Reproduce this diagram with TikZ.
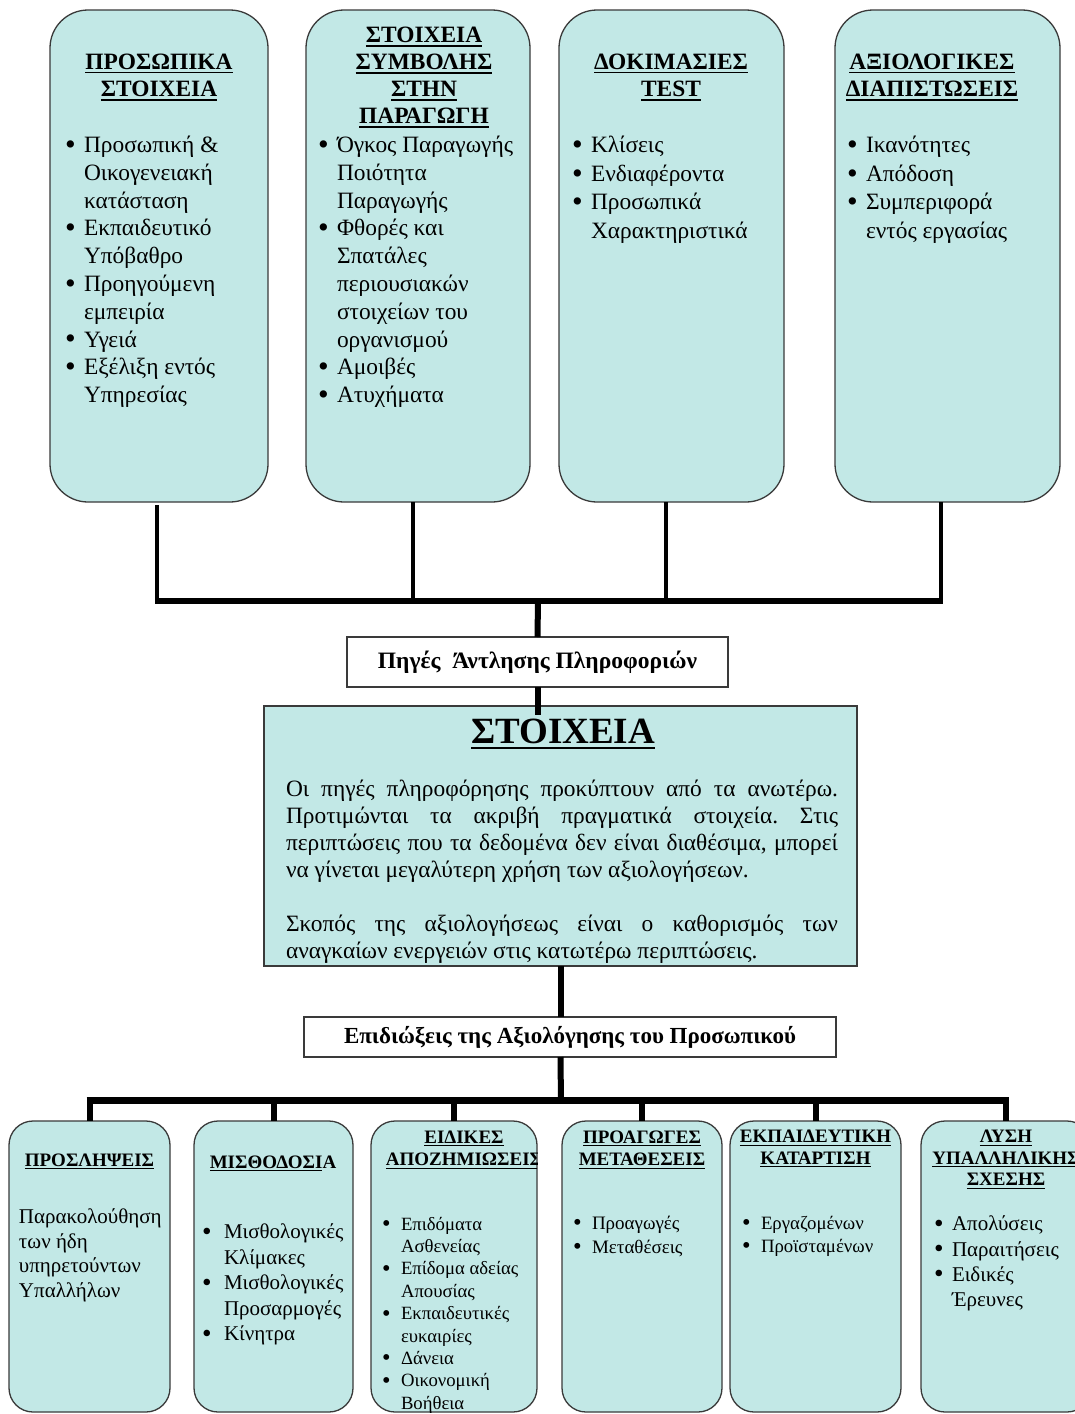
\documentclass[tikz,border=0pt]{standalone}
\usepackage{fontspec}
\usepackage{graphicx}
\setmainfont{Liberation Serif}
\usetikzlibrary{calc}
\definecolor{boxfill}{HTML}{C2E8E6}
\definecolor{edgecol}{HTML}{3A3A3A}
\frenchspacing
\newcommand{\uln}[1]{\setbox0\hbox{#1}\rlap{\rule[-0.17em]{\wd0}{0.065em}}\box0}
\newcommand{\bul}[1][19pt]{\makebox[#1][l]{\raisebox{-0.07em}{\scalebox{1.3}{•}}}}
\newcommand{\bind}[1][19pt]{\hspace*{#1}}
\newcommand{\fsz}[2]{\fontsize{#1}{#2}\selectfont}
\newcommand{\jl}[1]{\setbox2\hbox{#1}\ifdim\wd2>552pt\relax\resizebox{552pt}{\height}{#1}\else\makebox[552pt][s]{#1}\fi}
\newcommand{\nl}[1]{\setbox2\hbox{#1}\ifdim\wd2>552pt\relax\resizebox{552pt}{\height}{#1}\else\box2\fi}
\begin{document}
\begin{tikzpicture}[x=1pt,y=-1pt,
  topbox/.style={draw=edgecol, line width=1.3pt, fill=boxfill, rounded corners=38pt, inner sep=0pt, outer sep=0pt},
  botbox/.style={draw=edgecol, line width=1.3pt, fill=boxfill, rounded corners=24pt, inner sep=0pt, outer sep=0pt},
  mainbox/.style={draw=edgecol, line width=1.3pt, fill=boxfill, inner sep=0pt, outer sep=0pt},
  plainbox/.style={draw=edgecol, line width=1.3pt, fill=white, inner sep=0pt, outer sep=0pt},
  txt/.style={inner sep=0pt, outer sep=0pt, align=left, anchor=north west},
  ttl/.style={inner sep=0pt, outer sep=0pt, align=center, anchor=north},
  vconn/.style={line width=4.5pt, black},
  hbar/.style={line width=6.5pt, black},
  stem/.style={line width=6pt, black},
  bvconn/.style={line width=6pt, black},
  bbar/.style={line width=7pt, black}
]
\useasboundingbox (0,0) rectangle (1075,1414);
\clip (0,0) rectangle (1075,1414);
\fill[white] (0,0) rectangle (1075,1414);

% ---------- top boxes ----------
\node[topbox, anchor=north west, minimum width=218pt, minimum height=492pt] (t1) at (50,10) {};
\node[topbox, anchor=north west, minimum width=224pt, minimum height=492pt] (t2) at (306,10) {};
\node[topbox, anchor=north west, minimum width=225pt, minimum height=492pt] (t3) at (559,10) {};
\node[topbox, anchor=north west, minimum width=225pt, minimum height=492pt] (t4) at (835,10) {};

\node[ttl, font=\bfseries\fsz{23.4}{27.5}] (t1h) at (159,50) {\strut\uln{ΠΡΟΣΩΠΙΚΑ}\\\uln{ΣΤΟΙΧΕΙΑ}};
\node[ttl, font=\bfseries\fsz{23.4}{27}] (t2h) at (424,24) {\strut\uln{ΣΤΟΙΧΕΙΑ}\\\uln{ΣΥΜΒΟΛΗΣ}\\\uln{ΣΤΗΝ}\\\uln{ΠΑΡΑΓΩΓΗ}};
\node[ttl, font=\bfseries\fsz{23.4}{27.5}] (t3h) at (671,50) {\strut\uln{ΔΟΚΙΜΑΣΙΕΣ}\\\uln{TEST}};
\node[ttl, font=\bfseries\fsz{23.4}{27.5}] (t4h) at (932,50) {\strut\uln{ΑΞΙΟΛΟΓΙΚΕΣ}\\\uln{ΔΙΑΠΙΣΤΩΣΕΙΣ}};

\node[txt, font=\fsz{23.4}{27.8}] (t1l) at (65,133) {\strut\bul Προσωπική \&\\\bind Οικογενειακή\\\bind κατάσταση\\\bul Εκπαιδευτικό\\\bind Υπόβαθρο\\\bul Προηγούμενη\\\bind εμπειρία\\\bul Υγειά\\\bul Εξέλιξη εντός\\\bind Υπηρεσίας};
\node[txt, font=\fsz{23.4}{27.8}] (t2l) at (318,133) {\strut\bul Όγκος Παραγωγής\\\bind Ποιότητα\\\bind Παραγωγής\\\bul Φθορές και\\\bind Σπατάλες\\\bind περιουσιακών\\\bind στοιχείων του\\\bind οργανισμού\\\bul Αμοιβές\\\bul Ατυχήματα};
\node[txt, font=\fsz{23.4}{28.5}] (t3l) at (572,133) {\strut\bul Κλίσεις\\\bul Ενδιαφέροντα\\\bul Προσωπικά\\\bind Χαρακτηριστικά};
\node[txt, font=\fsz{23.4}{28.5}] (t4l) at (847,133) {\strut\bul Ικανότητες\\\bul Απόδοση\\\bul Συμπεριφορά\\\bind εντός εργασίας};

% ---------- top connectors ----------
\coordinate (k1) at (157,601);
\coordinate (k2) at (413,601);
\coordinate (k3) at (666,601);
\coordinate (k4) at (941,601);
\coordinate (h1) at (538,601);
\draw[vconn] ($(t1.south -| k1)+(0,3)$) -- ($(k1)+(0,3)$);
\draw[vconn] (t2.south -| k2) -- ($(k2)+(0,3)$);
\draw[vconn] (t3.south -| k3) -- ($(k3)+(0,3)$);
\draw[vconn] (t4.south -| k4) -- ($(k4)+(0,3)$);
\draw[hbar] ($(k1)+(-2,0)$) -- ($(k4)+(2,0)$);

% ---------- sources box ----------
\node[plainbox, minimum width=381pt, minimum height=50pt, font=\bfseries\fsz{23.5}{27}] (src) at (537.5,662) {Πηγές\ \ Άντλησης Πληροφοριών};
\draw[stem] (h1) -- (src.north);

% ---------- main box ----------
\node[mainbox, anchor=north west, minimum width=593pt, minimum height=260pt] (main) at (264,706) {};
\draw[stem] (src.south) -- ($(src.south |- main.north)+(0,9)$);
\node[inner sep=0pt, anchor=base, font=\bfseries\fsz{37}{44}] (mtitle) at (563,743) {\uln{ΣΤΟΙΧΕΙΑ}};
\node[txt, font=\fsz{23.4}{27}] (mtext) at (286,777.5) {\strut\jl{Οι πηγές πληροφόρησης προκύπτουν από τα ανωτέρω.}\\\jl{Προτιμώνται τα ακριβή πραγματικά στοιχεία. Στις}\\\jl{περιπτώσεις που τα δεδομένα δεν είναι διαθέσιμα, μπορεί}\\\nl{να γίνεται μεγαλύτερη χρήση των αξιολογήσεων.}\\[27pt]\jl{Σκοπός της αξιολογήσεως είναι ο καθορισμός των}\\\nl{αναγκαίων ενεργειών στις κατωτέρω περιπτώσεις.}};

% ---------- goals box ----------
\node[plainbox, minimum width=532pt, minimum height=40pt, font=\bfseries\fsz{23}{26}] (goal) at (570,1037) {Επιδιώξεις της Αξιολόγησης του Προσωπικού};
\draw[stem] (main.south) -- (main.south |- goal.north);

% ---------- bottom boxes ----------
\node[botbox, anchor=north west, minimum width=161pt, minimum height=291pt] (b1) at (9,1121) {};
\node[botbox, anchor=north west, minimum width=159pt, minimum height=291pt] (b2) at (194,1121) {};
\node[botbox, anchor=north west, minimum width=166pt, minimum height=291pt] (b3) at (371,1121) {};
\node[botbox, anchor=north west, minimum width=160pt, minimum height=291pt] (b4) at (562,1121) {};
\node[botbox, anchor=north west, minimum width=171pt, minimum height=291pt] (b5) at (730,1121) {};
\node[botbox, anchor=north west, minimum width=170pt, minimum height=291pt] (b6) at (921,1121) {};

% ---------- bottom connectors ----------
\coordinate (h2) at (561,1100);
\draw[stem] (main.south |- goal.south) -- ($(h2)+(0,3)$);
\draw[bvconn] ($(b1.north |- h2)+(0,-3)$) -- (b1.north);
\draw[bvconn] ($(b2.north |- h2)+(0,-3)$) -- (b2.north);
\draw[bvconn] ($(b3.north |- h2)+(0,-3)$) -- (b3.north);
\draw[bvconn] ($(b4.north |- h2)+(0,-3)$) -- (b4.north);
\draw[bvconn] ($(b5.north |- h2)+(0,-3)$) -- (b5.north);
\draw[bvconn] ($(b6.north |- h2)+(0,-3)$) -- (b6.north);
\draw[bbar] ($(b1.north |- h2)+(-3,0)$) -- ($(b6.north |- h2)+(3,0)$);

% ---------- bottom titles ----------
\node[ttl, font=\bfseries\fsz{19}{22.5}] (b1h) at (89.5,1150.5) {\strut\uln{ΠΡΟΣΛΗΨΕΙΣ}};
\node[ttl, font=\bfseries\fsz{19}{22.5}] (b2h) at (273,1152.5) {\strut\uln{ΜΙΣΘΟΔΟΣΙ}Α};
\begin{scope}
  \clip (b3.north west) rectangle (b3.south east);
  \node[ttl, font=\bfseries\fsz{19}{22.5}] (b3h) at (464,1127.5) {\strut\uln{ΕΙΔΙΚΕΣ}\\\uln{ΑΠΟΖΗΜΙΩΣΕΙΣ}};
\end{scope}
\node[ttl, font=\bfseries\fsz{19}{22.5}] (b4h) at (642,1127.5) {\strut\uln{ΠΡΟΑΓΩΓΕΣ}\\\uln{ΜΕΤΑΘΕΣΕΙΣ}};
\node[ttl, font=\bfseries\fsz{19}{21.5}] (b5h) at (815.5,1127.5) {\strut\uln{ΕΚΠΑΙΔΕΥΤΙΚΗ}\\\uln{ΚΑΤΑΡΤΙΣΗ}};
\node[ttl, font=\bfseries\fsz{19}{21.5}] (b6h) at (1006,1127.5) {\strut\uln{ΛΥΣΗ}\\\uln{ΥΠΑΛΛΗΛΙΚΗΣ}\\\uln{ΣΧΕΣΗΣ}};

% ---------- bottom bodies ----------
\node[txt, font=\fsz{21}{24.5}] (b1l) at (19,1206.7) {\strut Παρακολούθηση\\των ήδη\\υπηρετούντων\\Υπαλλήλων};
\node[txt, font=\fsz{21}{25.5}] (b2l) at (202,1221) {\strut\bul[22pt]Μισθολογικές\\\bind[22pt]Κλίμακες\\\bul[22pt]Μισθολογικές\\\bind[22pt]Προσαρμογές\\\bul[22pt]Κίνητρα};
\node[txt, font=\fsz{18.7}{22.4}] (b3l) at (382,1214.5) {\strut\bul[19pt]Επιδόματα\\\bind[19pt]Ασθενείας\\\bul[19pt]Επίδομα αδείας\\\bind[19pt]Απουσίας\\\bul[19pt]Εκπαιδευτικές\\\bind[19pt]ευκαιρίες\\\bul[19pt]Δάνεια\\\bul[19pt]Οικονομική\\\bind[19pt]Βοήθεια};
\node[txt, font=\fsz{19}{24}] (b4l) at (573,1212.5) {\strut\bul[19pt]Προαγωγές\\\bul[19pt]Μεταθέσεις};
\node[txt, font=\fsz{18.8}{23}] (b5l) at (742,1213.2) {\strut\bul[19pt]Εργαζομένων\\\bul[19pt]Προϊσταμένων};
\node[txt, font=\fsz{21}{25.3}] (b6l) at (934,1213.2) {\strut\bul[18pt]Απολύσεις\\\bul[18pt]Παραιτήσεις\\\bul[18pt]Ειδικές\\\bind[18pt]Έρευνες};
\end{tikzpicture}
\end{document}
